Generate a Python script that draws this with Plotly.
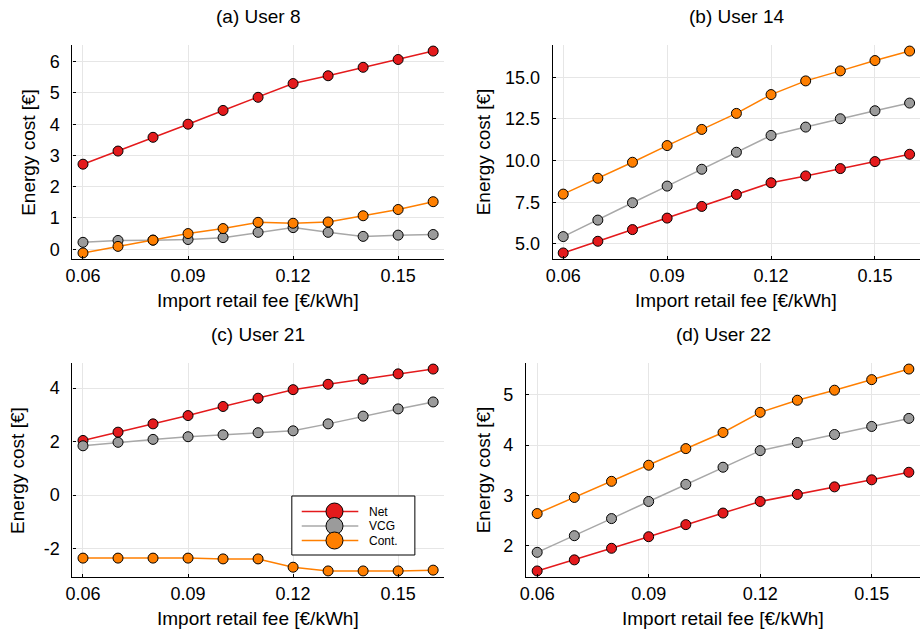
import plotly.graph_objects as go

# Import retail fee levels (€/kWh)
fee = [0.06, 0.07, 0.08, 0.09, 0.10, 0.11, 0.12, 0.13, 0.14, 0.15, 0.16]
x_ticks = [0.06, 0.09, 0.12, 0.15]
x_ticktext = ["0.06", "0.09", "0.12", "0.15"]

# Energy cost per user (€) for the three cost-allocation schemes
u8_net = [2.72, 3.14, 3.58, 4.00, 4.44, 4.86, 5.30, 5.55, 5.82, 6.07, 6.34]
u8_vcg = [0.22, 0.28, 0.29, 0.31, 0.37, 0.54, 0.69, 0.54, 0.41, 0.45, 0.47]
u8_cont = [-0.12, 0.09, 0.29, 0.50, 0.66, 0.86, 0.83, 0.87, 1.07, 1.27, 1.52]

u14_net = [4.46, 5.16, 5.86, 6.55, 7.25, 7.97, 8.67, 9.08, 9.52, 9.94, 10.38]
u14_vcg = [5.44, 6.43, 7.47, 8.47, 9.48, 10.50, 11.51, 12.01, 12.51, 12.99, 13.45]
u14_cont = [7.99, 8.94, 9.90, 10.90, 11.87, 12.83, 13.96, 14.78, 15.38, 16.00, 16.57]

u21_net = [2.04, 2.35, 2.66, 2.97, 3.31, 3.62, 3.94, 4.14, 4.33, 4.53, 4.71]
u21_vcg = [1.84, 1.97, 2.08, 2.18, 2.25, 2.33, 2.40, 2.66, 2.95, 3.22, 3.48]
u21_cont = [-2.36, -2.36, -2.36, -2.36, -2.39, -2.39, -2.70, -2.84, -2.84, -2.84, -2.81]

u22_net = [1.50, 1.72, 1.95, 2.18, 2.42, 2.65, 2.88, 3.02, 3.17, 3.31, 3.46]
u22_vcg = [1.87, 2.20, 2.54, 2.88, 3.22, 3.56, 3.89, 4.05, 4.21, 4.37, 4.53]
u22_cont = [2.64, 2.96, 3.28, 3.60, 3.93, 4.25, 4.65, 4.89, 5.09, 5.30, 5.51]

y_ticks_8 = [0, 1, 2, 3, 4, 5, 6]
y_ticks_14 = [5.0, 7.5, 10.0, 12.5, 15.0]
y_ticks_21 = [-2, 0, 2, 4]
y_ticks_22 = [2, 3, 4, 5]

series_names = ["Net", "VCG", "Cont."]
series_colors = ["#e41a1c", "#9b9b9b", "#ff7f00"]
line_colors = ["#e41a1c", "#a8a8a8", "#ff7f00"]

W, H = 920, 629
FONT = "Liberation Sans, Arial, sans-serif"


def px_x(p):
    return p / W


def px_y(p):
    return 1 - p / H


def padded(vals, frac=0.03):
    lo, hi = min(vals), max(vals)
    pad = (hi - lo) * frac
    return [lo - pad, hi + pad]


# Panel definitions: title, series, y ticks, y tick labels, plot box in pixels
panels = [
    dict(title="(a) User 8", data=[u8_net, u8_vcg, u8_cont],
         yt=y_ticks_8, ytt=[str(v) for v in y_ticks_8],
         box=(66, 440, 45, 259), ylab_x=21),
    dict(title="(b) User 14", data=[u14_net, u14_vcg, u14_cont],
         yt=y_ticks_14, ytt=[f"{v:.1f}" for v in y_ticks_14],
         box=(550, 920, 45, 259), ylab_x=480),
    dict(title="(c) User 21", data=[u21_net, u21_vcg, u21_cont],
         yt=y_ticks_21, ytt=[str(v) for v in y_ticks_21],
         box=(66, 440, 363, 577), ylab_x=10),
    dict(title="(d) User 22", data=[u22_net, u22_vcg, u22_cont],
         yt=y_ticks_22, ytt=[str(v) for v in y_ticks_22],
         box=(523, 920, 363, 577), ylab_x=480),
]

fig = go.Figure()
annotations = []
shapes = []
layout_axes = {}

for i, p in enumerate(panels, start=1):
    xa = "x" if i == 1 else f"x{i}"
    ya = "y" if i == 1 else f"y{i}"
    for name, vals, mc, lc in zip(series_names, p["data"], series_colors, line_colors):
        fig.add_trace(go.Scatter(
            x=fee, y=vals, xaxis=xa, yaxis=ya, mode="lines+markers",
            name=name, showlegend=False,
            line=dict(color=lc, width=1.5),
            marker=dict(size=10, color=mc, line=dict(color="black", width=1)),
        ))

    x0, x1, y0, y1 = p["box"]
    all_vals = [v for s in p["data"] for v in s]
    axis_common = dict(
        showgrid=True, gridcolor="#e6e6e6", gridwidth=1,
        zeroline=False, showline=True, linecolor="black", linewidth=1.3,
        ticks="inside", ticklen=3, tickcolor="black", tickwidth=1,
        tickfont=dict(family=FONT, size=18, color="black"),
    )
    layout_axes["xaxis" if i == 1 else f"xaxis{i}"] = dict(
        axis_common, domain=[px_x(x0), px_x(x1)], anchor=ya,
        range=padded(fee), tickvals=x_ticks, ticktext=x_ticktext,
    )
    layout_axes["yaxis" if i == 1 else f"yaxis{i}"] = dict(
        axis_common, domain=[px_y(y1), px_y(y0)], anchor=xa,
        range=padded(all_vals), tickvals=p["yt"], ticktext=p["ytt"],
        ticklabelstandoff=8,
    )

    cx = (x0 + x1) / 2
    annotations.append(dict(
        text=p["title"], x=px_x(cx), y=px_y(y0 - 29), xref="paper", yref="paper",
        xanchor="center", yanchor="middle", showarrow=False,
        font=dict(family=FONT, size=19, color="black"),
    ))
    annotations.append(dict(
        text="Import retail fee [€/kWh]", x=px_x(cx), y=px_y(y1 + 41),
        xref="paper", yref="paper", xanchor="center", yanchor="middle",
        showarrow=False, font=dict(family=FONT, size=19, color="black"),
    ))
    annotations.append(dict(
        text="Energy cost [€]", x=px_x(p["ylab_x"]), y=px_y((y0 + y1) / 2),
        xref="paper", yref="paper", xanchor="center", yanchor="middle",
        textangle=-90, showarrow=False,
        font=dict(family=FONT, size=19, color="black"),
    ))

# Legend box inside panel (c): line sample, marker sample and label per series
leg_left, leg_right, leg_top, leg_bottom = 287, 411, 496, 555
row_y = [511.5, 526, 540.5]
shapes.append(dict(
    type="rect", xref="paper", yref="paper", layer="above",
    x0=px_x(leg_left), x1=px_x(leg_right), y0=px_y(leg_bottom), y1=px_y(leg_top),
    fillcolor="white", line=dict(color="black", width=1),
))
for name, mc, lc, ry in zip(series_names, series_colors, line_colors, row_y):
    shapes.append(dict(
        type="line", xref="paper", yref="paper", layer="above",
        x0=px_x(297), x1=px_x(354), y0=px_y(ry), y1=px_y(ry),
        line=dict(color=lc, width=1.5),
    ))
for name, mc, lc, ry in zip(series_names, series_colors, line_colors, row_y):
    shapes.append(dict(
        type="circle", xref="paper", yref="paper", layer="above",
        xsizemode="pixel", ysizemode="pixel",
        xanchor=px_x(330), yanchor=px_y(ry),
        x0=-8.5, x1=8.5, y0=-8.5, y1=8.5,
        fillcolor=mc, line=dict(color="black", width=1),
    ))
    annotations.append(dict(
        text=name, x=px_x(363), y=px_y(ry), xref="paper", yref="paper",
        xanchor="left", yanchor="middle", showarrow=False,
        font=dict(family=FONT, size=12, color="black"),
    ))

fig.update_layout(
    width=W, height=H,
    margin=dict(l=0, r=0, t=0, b=0),
    paper_bgcolor="white", plot_bgcolor="white",
    showlegend=False,
    annotations=annotations,
    shapes=shapes,
    **layout_axes,
)

fig.write_html("out.html")
